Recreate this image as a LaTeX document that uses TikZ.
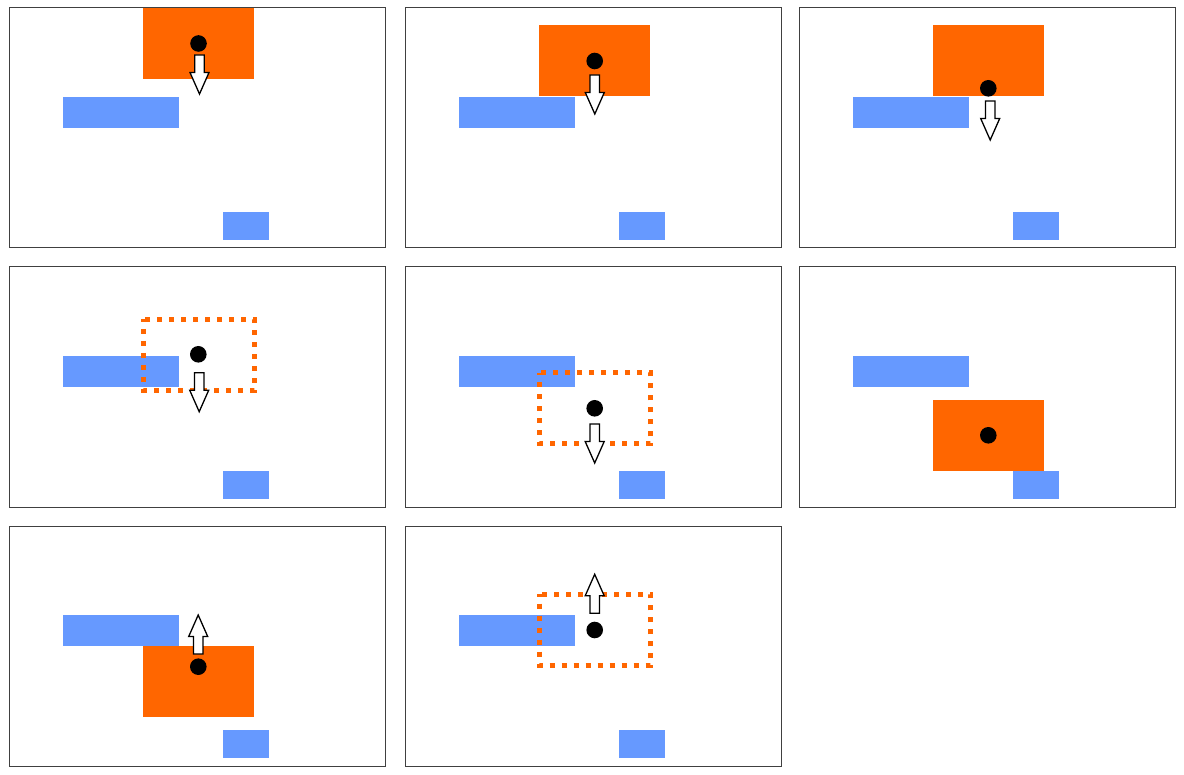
\documentclass[tikz,border=0pt]{standalone}
\definecolor{orng}{HTML}{FF6600}
\definecolor{blu}{HTML}{6699FF}
\tikzset{
  frame/.style={draw=black!75,line width=1pt},
  bluebox/.style={fill=blu},
  solidbox/.style={fill=orng},
  dotbox/.style={draw=orng,line width=5pt,dash pattern=on 5pt off 7pt,dash phase=2.5pt},
  ball/.style={fill=black},
  arrowst/.style={draw=black,fill=white,line width=1.3pt,line join=miter},
}
\newcommand\myarr[3]{%
  \draw[arrowst] (#1-4.75,#2) -- (#1+4.75,#2) -- (#1+4.75,#2+#3*17.5) -- (#1+9.5,#2+#3*17.5)
     -- (#1,#2+#3*39) -- (#1-9.5,#2+#3*17.5) -- (#1-4.75,#2+#3*17.5) -- cycle;}
\newcommand\myblues{%
  \fill[bluebox] (54,89) rectangle (170,120);
  \fill[bluebox] (214,204) rectangle (260,232);}
\begin{document}
\begin{tikzpicture}[x=1pt,y=-1pt]
\useasboundingbox (0,0) rectangle (1184,775);
\fill[white] (0,0) rectangle (1184,775);
% panel 1
\begin{scope}[shift={(9,8)}]
  \begin{scope}\clip (0,0) rectangle (376,240);
    \myblues
    \fill[solidbox] (134,0) rectangle (245,71);
    \fill[ball] (189.5,35.5) circle (8.3pt);
    \myarr{190.5}{47}{1}
  \end{scope}
  \draw[frame] (0,0) rectangle (376,240);
\end{scope}
% panel 2
\begin{scope}[shift={(405,8)}]
  \begin{scope}\clip (0,0) rectangle (376,240);
    \myblues
    \fill[solidbox] (134,17) rectangle (245,88);
    \fill[ball] (189.7,53) circle (8.3pt);
    \myarr{189.8}{67}{1}
  \end{scope}
  \draw[frame] (0,0) rectangle (376,240);
\end{scope}
% panel 3
\begin{scope}[shift={(799,8)}]
  \begin{scope}\clip (0,0) rectangle (376,240);
    \myblues
    \fill[solidbox] (134,17) rectangle (245,88);
    \fill[ball] (189.3,80.3) circle (8.3pt);
    \myarr{191.2}{93}{1}
  \end{scope}
  \draw[frame] (0,0) rectangle (376,240);
\end{scope}
% panel 4
\begin{scope}[shift={(9,267)}]
  \begin{scope}\clip (0,0) rectangle (376,240);
    \myblues
    \draw[dotbox] (134.5,52.5) rectangle (245.5,123.5);
    \fill[ball] (189.3,87.3) circle (8.3pt);
    \myarr{190.2}{105.7}{1}
  \end{scope}
  \draw[frame] (0,0) rectangle (376,240);
\end{scope}
% panel 5
\begin{scope}[shift={(405,267)}]
  \begin{scope}\clip (0,0) rectangle (376,240);
    \myblues
    \draw[dotbox] (134.5,106) rectangle (245.5,177);
    \fill[ball] (189.7,141.3) circle (8.3pt);
    \myarr{189.7}{157}{1}
  \end{scope}
  \draw[frame] (0,0) rectangle (376,240);
\end{scope}
% panel 6
\begin{scope}[shift={(799,267)}]
  \begin{scope}\clip (0,0) rectangle (376,240);
    \myblues
    \fill[solidbox] (134,133) rectangle (245,204);
    \fill[ball] (189.3,168.3) circle (8.3pt);
  \end{scope}
  \draw[frame] (0,0) rectangle (376,240);
\end{scope}
% panel 7
\begin{scope}[shift={(9,526)}]
  \begin{scope}\clip (0,0) rectangle (376,240);
    \myblues
    \fill[solidbox] (134,120) rectangle (245,191);
    \fill[ball] (189.3,140.7) circle (8.3pt);
    \myarr{189.2}{128}{-1}
  \end{scope}
  \draw[frame] (0,0) rectangle (376,240);
\end{scope}
% panel 8
\begin{scope}[shift={(405,526)}]
  \begin{scope}\clip (0,0) rectangle (376,240);
    \myblues
    \draw[dotbox] (134.5,68.2) rectangle (245.5,139.5);
    \fill[ball] (189.7,104) circle (8.3pt);
    \myarr{189.7}{87.3}{-1}
  \end{scope}
  \draw[frame] (0,0) rectangle (376,240);
\end{scope}
\end{tikzpicture}
\end{document}
